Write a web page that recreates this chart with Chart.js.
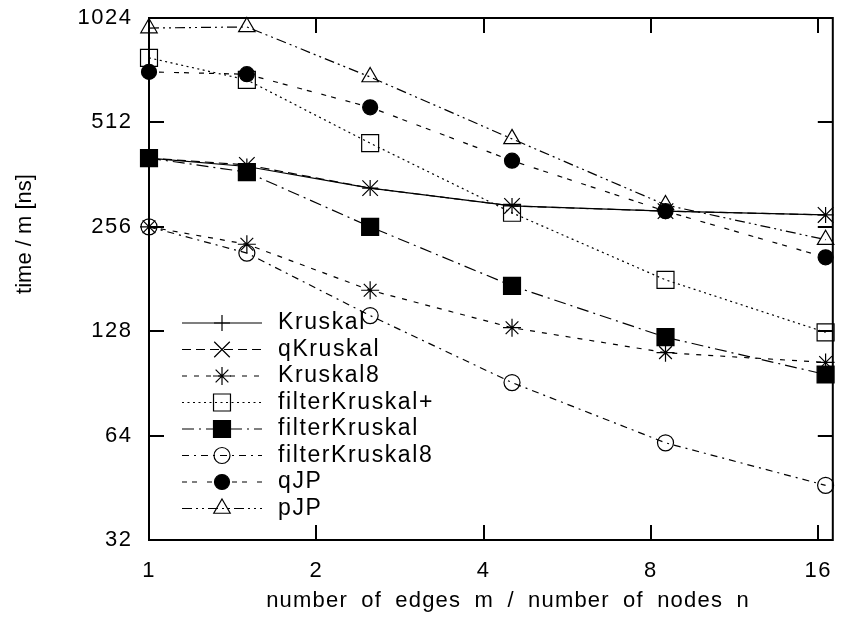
<!DOCTYPE html>
<html>
<head>
<meta charset="utf-8">
<script src="https://cdn.jsdelivr.net/npm/chart.js@4"></script>
<style>
  html, body { margin: 0; padding: 0; background: #fff; }
  #wrap { width: 846px; height: 626px; }
</style>
</head>
<body>
<div id="wrap"><canvas id="chart" width="846" height="626"></canvas></div>
<script>
// --- data ---
const xValues = [1, 1.5, 2.5, 4.5, 8.5, 16.5];
const xTicks = [1, 2, 4, 8, 16];
const yTicks = [32, 64, 128, 256, 512, 1024];

const kruskal           = [404, 382, 331, 294, 284, 277];
const qKruskal          = [404, 386, 331, 294, 284, 277];
const kruskal8          = [256, 228, 168, 131, 111, 104];
const filterKruskalPlus = [786, 679, 446, 281, 180, 127];
const filterKruskal     = [404, 368, 256, 173, 123, 96];
const filterKruskal8    = [256, 215, 142, 91, 61, 46];
const qJP               = [716, 705, 566, 397, 284, 209];
const pJP               = [958, 965, 692, 459, 296, 235];

const FONT = '"Liberation Sans", Arial, sans-serif';
const pts = (arr) => arr.map((v, i) => ({ x: xValues[i], y: v }));

function series(label, values, dash, pointStyle, radius, filled) {
    return {
        label: label,
        data: pts(values),
        borderColor: '#000',
        borderWidth: 1.2,
        borderDash: dash,
        pointStyle: pointStyle,
        pointRadius: radius,
        pointBorderWidth: 1.2,
        pointBorderColor: '#000',
        pointBackgroundColor: filled ? '#000' : 'rgba(0,0,0,0)',
        fill: false,
        tension: 0,
        clip: false
    };
}

// the reference text is set a little wider than Arial, so space it out a bit
const spacing = {
    id: 'spacing',
    beforeUpdate(chart) { chart.ctx.letterSpacing = '1.5px'; },
    beforeDraw(chart) { chart.ctx.letterSpacing = '1.5px'; }
};

// box with inward ticks on all four sides (gnuplot look)
const frame = {
    id: 'frame',
    beforeDatasetsDraw(chart) {
        const { ctx, chartArea: a, scales: { x, y } } = chart;
        ctx.save();
        ctx.strokeStyle = '#000';
        ctx.lineWidth = 2;
        ctx.strokeRect(a.left, a.top, a.right - a.left, a.bottom - a.top);
        ctx.beginPath();
        xTicks.forEach(v => {
            const px = Math.round(x.getPixelForValue(v));
            ctx.moveTo(px, a.bottom); ctx.lineTo(px, a.bottom - 15);
            ctx.moveTo(px, a.top); ctx.lineTo(px, a.top + 15);
        });
        yTicks.forEach(v => {
            const py = Math.round(y.getPixelForValue(v));
            ctx.moveTo(a.left, py); ctx.lineTo(a.left + 15, py);
            ctx.moveTo(a.right, py); ctx.lineTo(a.right - 15, py);
        });
        ctx.stroke();
        ctx.restore();
    }
};

// key inside the plot, bottom left: line sample with the marker in the middle
const key = {
    id: 'key',
    afterDatasetsDraw(chart) {
        const ctx = chart.ctx;
        ctx.save();
        ctx.font = '23px ' + FONT;
        ctx.letterSpacing = '1.6px';
        ctx.textBaseline = 'middle';
        ctx.textAlign = 'left';
        chart.data.datasets.forEach((ds, i) => {
            const yy = 323 + i * 26.5;
            ctx.strokeStyle = '#000';
            ctx.lineWidth = ds.borderWidth;
            ctx.setLineDash(ds.borderDash);
            ctx.beginPath();
            ctx.moveTo(182, yy); ctx.lineTo(262, yy);
            ctx.stroke();
            ctx.setLineDash([]);
            ctx.fillStyle = ds.pointBackgroundColor;
            ctx.lineWidth = ds.pointBorderWidth;
            Chart.helpers.drawPoint(ctx, {
                pointStyle: ds.pointStyle, radius: ds.pointRadius, rotation: 0, borderWidth: ds.pointBorderWidth
            }, 222, yy);
            ctx.fillStyle = '#000';
            ctx.fillText(ds.label, 278, yy);
        });
        ctx.restore();
    }
};

// axis titles
const titles = {
    id: 'titles',
    afterDraw(chart) {
        const ctx = chart.ctx;
        ctx.save();
        ctx.fillStyle = '#000';
        ctx.font = '22px ' + FONT;
        ctx.letterSpacing = '1.2px';
        ctx.wordSpacing = '6px';
        ctx.textAlign = 'center';
        ctx.textBaseline = 'middle';
        ctx.fillText('number of edges m / number of nodes n', 508, 601);
        ctx.wordSpacing = '0px';
        ctx.letterSpacing = '0px';
        ctx.translate(25, 234);
        ctx.rotate(-Math.PI / 2);
        ctx.fillText('time / m [ns]', 0, 0);
        ctx.restore();
    }
};

const chartConfig = {
    type: 'line',
    data: {
        datasets: [
            series('Kruskal', kruskal, [], 'cross', 8, false),
            series('qKruskal', qKruskal, [9, 5], 'crossRot', 11, false),
            series('Kruskal8', kruskal8, [5, 7], 'star', 9, false),
            series('filterKruskal+', filterKruskalPlus, [2, 3.5], 'rect', 12, false),
            series('filterKruskal', filterKruskal, [12, 5, 2, 5], 'rect', 12, true),
            series('filterKruskal8', filterKruskal8, [7, 5, 2, 5], 'circle', 8, false),
            series('qJP', qJP, [5, 5, 5, 10], 'circle', 7.5, true),
            series('pJP', pJP, [10, 4, 2, 4, 2, 4], 'triangle', 9.5, false)
        ]
    },
    options: {
        responsive: false,
        animation: false,
        layout: { padding: { top: 18, right: 8, left: 0, bottom: 0 } },
        plugins: { legend: { display: false }, tooltip: { enabled: false } },
        scales: {
            x: {
                type: 'logarithmic',
                min: 1,
                max: 17,
                afterBuildTicks: (s) => { s.ticks = xTicks.map(v => ({ value: v })); },
                afterFit: (s) => { s.height = 86; s.paddingLeft = 0; s.paddingRight = 0; },
                ticks: {
                    callback: (v) => String(v),
                    font: { size: 22, family: FONT },
                    color: '#000',
                    padding: 18,
                    maxRotation: 0,
                    autoSkip: false
                },
                grid: { display: false, drawTicks: false },
                border: { display: false }
            },
            y: {
                type: 'logarithmic',
                min: 32,
                max: 1024,
                afterBuildTicks: (s) => { s.ticks = yTicks.map(v => ({ value: v })); },
                afterFit: (s) => { s.width = 149; s.paddingTop = 0; s.paddingBottom = 0; },
                ticks: {
                    callback: (v) => String(v),
                    font: { size: 22, family: FONT },
                    color: '#000',
                    padding: 16.5,
                    autoSkip: false
                },
                grid: { display: false, drawTicks: false },
                border: { display: false }
            }
        }
    },
    plugins: [spacing, frame, key, titles]
};

new Chart(document.getElementById('chart'), chartConfig);
</script>
</body>
</html>
